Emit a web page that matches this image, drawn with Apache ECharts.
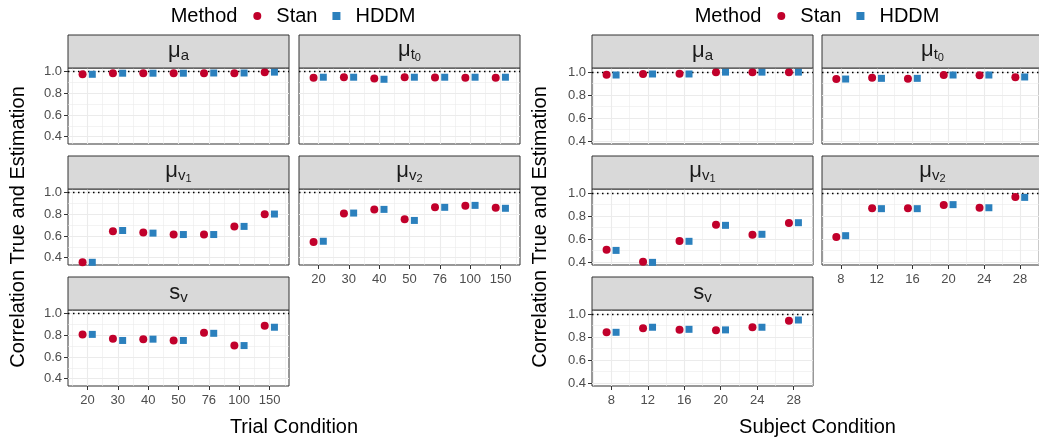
<!DOCTYPE html>
<html><head><meta charset="utf-8">
<script src="https://cdn.jsdelivr.net/npm/echarts@6/dist/echarts.min.js"></script>
<style>html,body{margin:0;padding:0;background:#fff}#c{width:1039px;height:443px}</style>
</head><body><div id="c"></div>
<script>
// ---------- data ----------
const trialCategories = ['20', '30', '40', '50', '76', '100', '150'];
const subjectCategories = ['8', '12', '16', '20', '24', '28'];
const methods = ['Stan', 'HDDM'];
const facetLabels = ['{m|μ}{s|a}', '{m|μ}{s|t}{ss|0}', '{m|μ}{s|v}{ss|1}', '{m|μ}{s|v}{ss|2}', '{m|s}{s|v}'];
const yTickValues = [0.4, 0.6, 0.8, 1.0];
const yMinorValues = [0.5, 0.7, 0.9];
const referenceLine = 1.0;

// Trial condition
const trialStanMuA  = [0.975, 0.985, 0.985, 0.985, 0.985, 0.985, 0.994];
const trialHddmMuA  = [0.975, 0.985, 0.985, 0.985, 0.987, 0.987, 0.995];
const trialStanMuT0 = [0.942, 0.948, 0.935, 0.948, 0.945, 0.942, 0.942];
const trialHddmMuT0 = [0.948, 0.948, 0.929, 0.948, 0.948, 0.948, 0.948];
const trialStanMuV1 = [0.357, 0.644, 0.632, 0.613, 0.613, 0.688, 0.799];
const trialHddmMuV1 = [0.357, 0.650, 0.626, 0.613, 0.613, 0.688, 0.802];
const trialStanMuV2 = [0.545, 0.808, 0.845, 0.753, 0.864, 0.879, 0.861];
const trialHddmMuV2 = [0.551, 0.811, 0.845, 0.743, 0.864, 0.882, 0.855];
const trialStanSv   = [0.808, 0.768, 0.764, 0.752, 0.824, 0.705, 0.887];
const trialHddmSv   = [0.808, 0.752, 0.764, 0.752, 0.818, 0.705, 0.874];

// Subject condition
const subjectStanMuA  = [0.977, 0.983, 0.986, 0.997, 0.997, 0.999];
const subjectHddmMuA  = [0.974, 0.983, 0.983, 0.999, 0.999, 0.999];
const subjectStanMuT0 = [0.939, 0.951, 0.942, 0.974, 0.971, 0.954];
const subjectHddmMuT0 = [0.939, 0.945, 0.945, 0.974, 0.974, 0.957];
const subjectStanMuV1 = [0.507, 0.403, 0.583, 0.725, 0.638, 0.739];
const subjectHddmMuV1 = [0.501, 0.397, 0.580, 0.719, 0.641, 0.742];
const subjectStanMuV2 = [0.617, 0.867, 0.867, 0.896, 0.872, 0.965];
const subjectHddmMuV2 = [0.629, 0.864, 0.864, 0.899, 0.872, 0.962];
const subjectStanSv   = [0.841, 0.876, 0.864, 0.859, 0.885, 0.942];
const subjectHddmSv   = [0.841, 0.885, 0.867, 0.862, 0.885, 0.948];

// ---------- style / layout ----------
const F = '"Liberation Sans", Arial, Helvetica, sans-serif';
const RED = '#C1002B', BLUE = '#2B80BD';
const GRID_COLOR = '#EBEBEB', BORDER = '#333333';
const STRIP_H = 33, PANEL_H = 76;
const ROW_TOP = [68, 189, 310];
const CELLS = [[0, 0], [0, 1], [1, 0], [1, 1], [2, 0]];
const BOTTOM_IN_COL = [4, 3];

const plots = [
  {
    cats: trialCategories,
    stan: [trialStanMuA, trialStanMuT0, trialStanMuV1, trialStanMuV2, trialStanSv],
    hddm: [trialHddmMuA, trialHddmMuT0, trialHddmMuV1, trialHddmMuV2, trialHddmSv],
    colLeft: [68, 299], colW: 221,
    xMin: 0.36, xMax: 7.64, yMin: 0.332, yMax: 1.033, dodge: 0.16,
    xTitle: 'Trial Condition', xTitleX: 294, yTitleX: 18, legendShift: 0
  },
  {
    cats: subjectCategories,
    stan: [subjectStanMuA, subjectStanMuT0, subjectStanMuV1, subjectStanMuV2, subjectStanSv],
    hddm: [subjectHddmMuA, subjectHddmMuT0, subjectHddmMuV1, subjectHddmMuV2, subjectHddmSv],
    colLeft: [592, 822], colW: 221,
    xMin: 0.47, xMax: 6.53, yMin: 0.374, yMax: 1.035, dodge: 0.13,
    xTitle: 'Subject Condition', xTitleX: 817.5, yTitleX: 540, legendShift: 524
  }
];

const grids = [], xAxes = [], yAxes = [], series = [], graphics = [], legends = [];
const stripRich = {
  m: { fontFamily: F, fontSize: 22, fill: '#1A1A1A', verticalAlign: 'top' },
  s: { fontFamily: F, fontSize: 15, fill: '#1A1A1A', verticalAlign: 'top', padding: [8.5, 0, 0, 0] },
  ss: { fontFamily: F, fontSize: 11, fill: '#1A1A1A', verticalAlign: 'top', padding: [13.4, 0, 0, 0] }
};

plots.forEach((p) => {
  const n = p.cats.length;
  const major = p.cats.map((_, i) => i + 1);
  const minorX = [];
  for (let i = 0; i <= n; i++) { const v = i + 0.5; if (v > p.xMin && v < p.xMax) minorX.push(v); }
  for (let f = 0; f < 5; f++) {
    const [r, c] = CELLS[f];
    const gi = grids.length;
    const left = p.colLeft[c], top = ROW_TOP[r], w = p.colW;
    grids.push({ left, top, width: w, height: PANEL_H, show: true, borderColor: BORDER, borderWidth: 1, backgroundColor: '#fff', containLabel: false, z: 0 });
    const showX = BOTTOM_IN_COL[c] === f;
    const showY = c === 0;
    xAxes.push({
      gridIndex: gi, type: 'value', min: p.xMin, max: p.xMax,
      axisLine: { show: false }, splitLine: { show: false },
      axisTick: { show: showX, customValues: major, length: 4, lineStyle: { color: BORDER, width: 1 } },
      axisLabel: { show: showX, customValues: major, formatter: (v) => p.cats[Math.round(v) - 1], color: '#4D4D4D', fontSize: 13, fontFamily: F, margin: 8 }
    });
    yAxes.push({
      gridIndex: gi, type: 'value', min: p.yMin, max: p.yMax,
      axisLine: { show: false }, splitLine: { show: false },
      axisTick: { show: showY, customValues: yTickValues, length: 4, lineStyle: { color: BORDER, width: 1 } },
      axisLabel: { show: showY, customValues: yTickValues, formatter: (v) => v.toFixed(1), color: '#4D4D4D', fontSize: 13, fontFamily: F, margin: 6 }
    });
    // grid lines
    const gl = [];
    minorX.forEach(v => gl.push({ xAxis: v, lineStyle: { color: GRID_COLOR, width: 0.6, type: 'solid' } }));
    yMinorValues.forEach(v => gl.push({ yAxis: v, lineStyle: { color: GRID_COLOR, width: 0.6, type: 'solid' } }));
    major.forEach(v => gl.push({ xAxis: v, lineStyle: { color: GRID_COLOR, width: 1.1, type: 'solid' } }));
    yTickValues.forEach(v => gl.push({ yAxis: v, lineStyle: { color: GRID_COLOR, width: 1.1, type: 'solid' } }));
    series.push({
      type: 'scatter', xAxisIndex: gi, yAxisIndex: gi, data: [], silent: true, z: 1,
      markLine: { z: 1, silent: true, animation: false, symbol: ['none', 'none'], label: { show: false }, emphasis: { disabled: true }, data: gl }
    });
    series.push({
      type: 'scatter', xAxisIndex: gi, yAxisIndex: gi, data: [], silent: true, z: 2,
      markLine: { z: 2, silent: true, animation: false, symbol: ['none', 'none'], label: { show: false }, emphasis: { disabled: true },
        data: [{ yAxis: referenceLine, lineStyle: { color: '#000', width: 1.3, type: [1.5, 3.5] } }] }
    });
    series.push({
      type: 'scatter', name: methods[0], xAxisIndex: gi, yAxisIndex: gi, z: 6, animation: false,
      symbol: 'circle', symbolSize: 8, itemStyle: { color: RED, opacity: 1 },
      data: p.stan[f].map((v, i) => [i + 1 - p.dodge, v])
    });
    series.push({
      type: 'scatter', name: methods[1], xAxisIndex: gi, yAxisIndex: gi, z: 6, animation: false,
      symbol: 'rect', symbolSize: 7, itemStyle: { color: BLUE, opacity: 1 },
      data: p.hddm[f].map((v, i) => [i + 1 + p.dodge, v])
    });
    // strip
    graphics.push({ type: 'rect', silent: true, z: 10, shape: { x: left, y: top - STRIP_H, width: w, height: STRIP_H },
      style: { fill: '#D9D9D9', stroke: BORDER, lineWidth: 1 } });
    graphics.push({ type: 'text', silent: true, z: 11, x: left + w / 2, y: top - STRIP_H / 2,
      style: { text: facetLabels[f], rich: stripRich, align: 'center', verticalAlign: 'middle', fontFamily: F, fontSize: 22, fill: '#1A1A1A' } });
  }
  // titles
  graphics.push({ type: 'text', silent: true, x: p.xTitleX, y: 427,
    style: { text: p.xTitle, fontFamily: F, fontSize: 20, fill: '#000', align: 'center', verticalAlign: 'middle' } });
  graphics.push({ type: 'text', silent: true, x: p.yTitleX, y: 227, rotation: Math.PI / 2,
    style: { text: 'Correlation True and Estimation', fontFamily: F, fontSize: 20, fill: '#000', align: 'center', verticalAlign: 'middle' } });
  graphics.push({ type: 'text', silent: true, x: 170.7 + p.legendShift, y: 16,
    style: { text: 'Method', fontFamily: F, fontSize: 20, fill: '#000', align: 'left', verticalAlign: 'middle' } });
  legends.push({
    left: 253.3 + p.legendShift, top: 6, padding: 0, itemWidth: 8, itemHeight: 8, itemGap: 15, selectedMode: false,
    data: [{ name: methods[0], icon: 'circle' }, { name: methods[1], icon: 'rect' }],
    textStyle: { fontFamily: F, fontSize: 20, color: '#000', padding: [0, 0, 0, 10] }
  });
});

const chart = echarts.init(document.getElementById('c'), null, { renderer: 'canvas' });
chart.setOption({
  animation: false,
  backgroundColor: '#ffffff',
  grid: grids, xAxis: xAxes, yAxis: yAxes, series, legend: legends,
  graphic: { elements: graphics }
});
</script></body></html>
